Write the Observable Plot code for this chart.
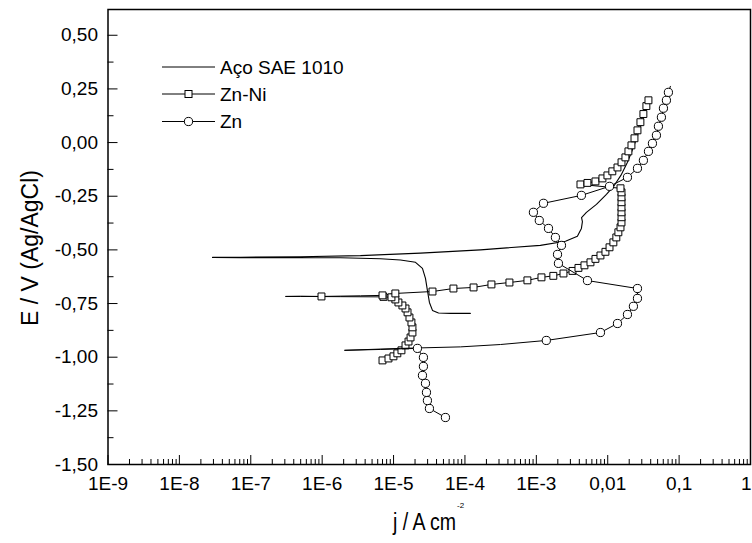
<!DOCTYPE html>
<html><head><meta charset="utf-8">
<script src="https://cdn.jsdelivr.net/npm/d3@7"></script>
<script src="https://cdn.jsdelivr.net/npm/@observablehq/plot@0.6"></script>
<style>
body{margin:0;background:#fff;}
#chart{width:752px;height:543px;}
</style></head><body><div id="chart"></div>
<script>
// ---- data (j in A/cm², E in V vs Ag/AgCl) ----
const seriesNames = ["Aço SAE 1010", "Zn-Ni", "Zn"];

const acoJ = [1.19e-4, 6.26e-5, 4.26e-5, 3.51e-5, 3.18e-5, 2.98e-5, 2.80e-5, 2.54e-5, 2.03e-5, 1.25e-5, 6.56e-6, 1.80e-6, 2.61e-7, 7.18e-8, 2.91e-8,
  7.2e-8, 4.97e-7, 3.44e-6, 2.38e-5, 1.65e-4, 1.14e-3, 2.56e-3, 3.76e-3, 4.28e-3, 4.42e-3, 4.3e-3, 5.03e-3, 6.95e-3, 9.59e-3, 1.24e-2, 1.56e-2, 1.89e-2, 2.29e-2, 2.78e-2, 3.27e-2, 3.72e-2];
const acoE = [-0.796, -0.796, -0.794, -0.782, -0.745, -0.689, -0.633, -0.586, -0.558, -0.547, -0.541, -0.537, -0.536, -0.536, -0.535,
  -0.534, -0.532, -0.527, -0.515, -0.500, -0.479, -0.460, -0.437, -0.400, -0.368, -0.350, -0.325, -0.288, -0.241, -0.199, -0.148, -0.092, -0.022, 0.057, 0.127, 0.188];

const znNiJ = [7.0e-6, 8.49e-6, 9.97e-6, 1.13e-5, 1.29e-5, 1.47e-5, 1.62e-5, 1.73e-5, 1.84e-5, 1.84e-5, 1.78e-5, 1.67e-5, 1.57e-5, 1.47e-5, 1.33e-5, 1.17e-5, 1.06e-5, 9.35e-6, 7.22e-6,
  1.80e-6, 4.97e-7, 3.06e-7, 4.97e-7, 9.78e-7, 3.44e-6, 7.0e-6, 1.06e-5, 3.51e-5, 6.90e-5, 1.32e-4, 2.35e-4, 4.20e-4, 7.50e-4, 1.18e-3, 1.73e-3, 2.40e-3,
  3.21e-3, 3.89e-3, 4.72e-3, 5.73e-3, 6.73e-3, 7.91e-3, 9.29e-3, 1.06e-2, 1.20e-2, 1.32e-2, 1.41e-2, 1.51e-2, 1.56e-2, 1.56e-2, 1.56e-2, 1.56e-2, 1.56e-2, 1.56e-2, 1.56e-2, 1.51e-2,
  4.15e-3, 5.20e-3, 6.73e-3, 8.43e-3, 9.9e-3, 1.16e-2, 1.37e-2, 1.56e-2, 1.77e-2, 1.95e-2, 2.15e-2, 2.37e-2, 2.61e-2, 2.87e-2, 3.16e-2, 3.48e-2, 3.72e-2];
const znNiE = [-1.015, -1.006, -0.996, -0.982, -0.968, -0.945, -0.927, -0.908, -0.885, -0.861, -0.838, -0.815, -0.791, -0.773, -0.759, -0.745, -0.731, -0.721, -0.719,
  -0.718, -0.717, -0.717, -0.716, -0.717, -0.714, -0.712, -0.703, -0.694, -0.680, -0.675, -0.661, -0.652, -0.642, -0.628, -0.621, -0.610,
  -0.598, -0.584, -0.572, -0.558, -0.542, -0.526, -0.509, -0.488, -0.465, -0.442, -0.418, -0.395, -0.372, -0.348, -0.325, -0.302, -0.278, -0.255, -0.232, -0.213,
  -0.195, -0.188, -0.181, -0.167, -0.153, -0.134, -0.116, -0.092, -0.069, -0.041, -0.013, 0.020, 0.057, 0.095, 0.133, 0.170, 0.197];
const znNiMarked = [1,1,1,1,1,1,1,1,1,1,1,1,1,1,1,1,1,1,1,
  0,0,0,0,1,0,1,1,1,1,1,1,1,1,1,1,1,
  1,1,1,1,1,1,1,1,1,1,1,1,1,1,1,1,1,1,1,1,
  1,1,1,1,1,1,1,1,1,1,1,1,1,1,1,1,1];

const znJ = [5.33e-5, 3.18e-5, 2.98e-5, 2.89e-5, 2.80e-5, 2.54e-5, 2.62e-5, 2.62e-5, 2.16e-5, 6.56e-6, 2.05e-6, 1.25e-5, 8.65e-5, 3.14e-4,
  1.38e-3, 7.91e-3, 1.37e-2, 1.89e-2, 2.29e-2, 2.61e-2, 2.61e-2, 5.20e-3, 2.04e-3, 1.98e-3, 2.25e-3, 1.85e-3, 1.48e-3, 1.10e-3, 9.10e-4, 1.26e-3,
  4.28e-3, 1.06e-2, 1.89e-2, 2.61e-2, 3.16e-2, 3.72e-2, 4.23e-2, 4.81e-2, 5.13e-2, 5.65e-2, 6.03e-2, 6.64e-2, 7.08e-2, 7.55e-2];
const znE = [-1.281, -1.239, -1.202, -1.164, -1.122, -1.085, -1.043, -1.001, -0.959, -0.964, -0.968, -0.959, -0.952, -0.941,
  -0.922, -0.885, -0.843, -0.801, -0.763, -0.726, -0.680, -0.643, -0.563, -0.521, -0.479, -0.442, -0.400, -0.363, -0.325, -0.283,
  -0.246, -0.204, -0.162, -0.120, -0.083, -0.041, -0.004, 0.034, 0.076, 0.118, 0.160, 0.197, 0.234, 0.262];
const znMarked = [1,1,1,1,1,1,1,1,1,0,0,0,0,0,
  1,1,1,1,1,1,1,1,1,1,1,1,1,1,1,1,
  1,1,1,1,1,1,1,1,1,1,1,1,1,0];

// ---- axes ----
const xTicks = [1e-9, 1e-8, 1e-7, 1e-6, 1e-5, 1e-4, 1e-3, 1e-2, 1e-1, 1];
const xTickLabels = ["1E-9", "1E-8", "1E-7", "1E-6", "1E-5", "1E-4", "1E-3", "0,01", "0,1", "1"];
const yTicks = [0.5, 0.25, 0, -0.25, -0.5, -0.75, -1.0, -1.25, -1.5];
const yTickLabels = ["0,50", "0,25", "0,00", "-0,25", "-0,50", "-0,75", "-1,00", "-1,25", "-1,50"];
const xTitle = "j / A cm", xTitleSup = "-2";
const yTitle = "E / V (Ag/AgCl)";

// ---- build ----
const aco = acoJ.map((j, i) => ({j, E: acoE[i]}));
const znNi = znNiJ.map((j, i) => ({j, E: znNiE[i], m: znNiMarked[i]}));
const zn = znJ.map((j, i) => ({j, E: znE[i], m: znMarked[i]}));
const xLab = new Map(xTicks.map((t, i) => [t, xTickLabels[i]]));
const yLab = new Map(yTicks.map((t, i) => [t, yTickLabels[i]]));
const xMinor = d3.range(-9, 0).flatMap(e => d3.range(2, 10).map(k => k * Math.pow(10, e)));
const yMinor = yTicks.slice(0, -1).map(v => v - 0.125);

const FONT = "'Liberation Sans', Arial, sans-serif";
const chart = Plot.plot({
  width: 752, height: 543,
  marginLeft: 107.5, marginRight: 2, marginTop: 9, marginBottom: 79,
  style: {fontFamily: FONT, fontSize: "19px", color: "#000", background: "#fff", overflow: "visible"},
  x: {type: "log", domain: [1e-9, 1], label: null},
  y: {domain: [-1.5, 0.62], label: null},
  marks: [
    Plot.axisX(xTicks, {tickSize: 0, tickPadding: 12, tickFormat: d => xLab.get(d), label: null, fontSize: 19}),
    Plot.axisX(xTicks, {tickSize: -9, tickPadding: 0, tickFormat: () => "", label: null, stroke: "#000"}),
    Plot.axisX(xMinor, {tickSize: -5, tickPadding: 0, tickFormat: () => "", label: null, stroke: "#000"}),
    Plot.axisY(yTicks, {tickSize: 0, tickPadding: 10, tickFormat: d => yLab.get(d), label: null, fontSize: 19}),
    Plot.axisY(yTicks, {tickSize: -10, tickPadding: 0, tickFormat: () => "", label: null, stroke: "#000"}),
    Plot.axisY(yMinor, {tickSize: -6, tickPadding: 0, tickFormat: () => "", label: null, stroke: "#000"}),
    Plot.line(aco, {x: "j", y: "E", stroke: "#000", strokeWidth: 1.1}),
    Plot.line(znNi, {x: "j", y: "E", stroke: "#000", strokeWidth: 1}),
    Plot.dot(znNi.filter(d => d.m), {x: "j", y: "E", symbol: "square", r: 3.9, fill: "#fff", stroke: "#000", strokeWidth: 1}),
    Plot.line(zn, {x: "j", y: "E", stroke: "#000", strokeWidth: 1}),
    Plot.dot(zn.filter(d => d.m), {x: "j", y: "E", symbol: "circle", r: 4.1, fill: "#fff", stroke: "#000", strokeWidth: 1}),
    Plot.frame({stroke: "#000", strokeWidth: 1.5})
  ]
});
document.getElementById("chart").appendChild(chart);

const svg = d3.select(chart);
// keep the last x tick label ("1") inside the picture
svg.selectAll("text").filter(function () { return this.textContent === xTickLabels[xTickLabels.length - 1]; })
  .attr("text-anchor", "end").attr("dx", 1);

// titles
svg.append("text").attr("transform", "translate(38,248) rotate(-90)")
  .attr("text-anchor", "middle").attr("font-size", 23).attr("fill", "#000").text(yTitle);
svg.append("text").attr("x", 393).attr("y", 530).attr("text-anchor", "start")
  .attr("font-size", 23).attr("textLength", 63).attr("lengthAdjust", "spacingAndGlyphs").attr("fill", "#000").text(xTitle);
svg.append("text").attr("x", 457).attr("y", 508).attr("text-anchor", "start").attr("font-size", 8).attr("fill", "#000").text(xTitleSup);

// legend
const leg = svg.append("g");
const rows = [67, 94, 121.5];
const sym = [null, "square", "circle"];
rows.forEach((y, i) => {
  leg.append("line").attr("x1", 162).attr("x2", 215).attr("y1", y).attr("y2", y).attr("stroke", "#000").attr("stroke-width", 1);
  if (sym[i] === "square") leg.append("rect").attr("x", 185).attr("y", y - 3.5).attr("width", 7).attr("height", 7).attr("fill", "#fff").attr("stroke", "#000");
  if (sym[i] === "circle") leg.append("circle").attr("cx", 188.5).attr("cy", y).attr("r", 4.1).attr("fill", "#fff").attr("stroke", "#000");
  leg.append("text").attr("x", 220).attr("y", y + 6.6).attr("text-anchor", "start").attr("font-size", 19).attr("fill", "#000").text(seriesNames[i]);
});
</script></body></html>
